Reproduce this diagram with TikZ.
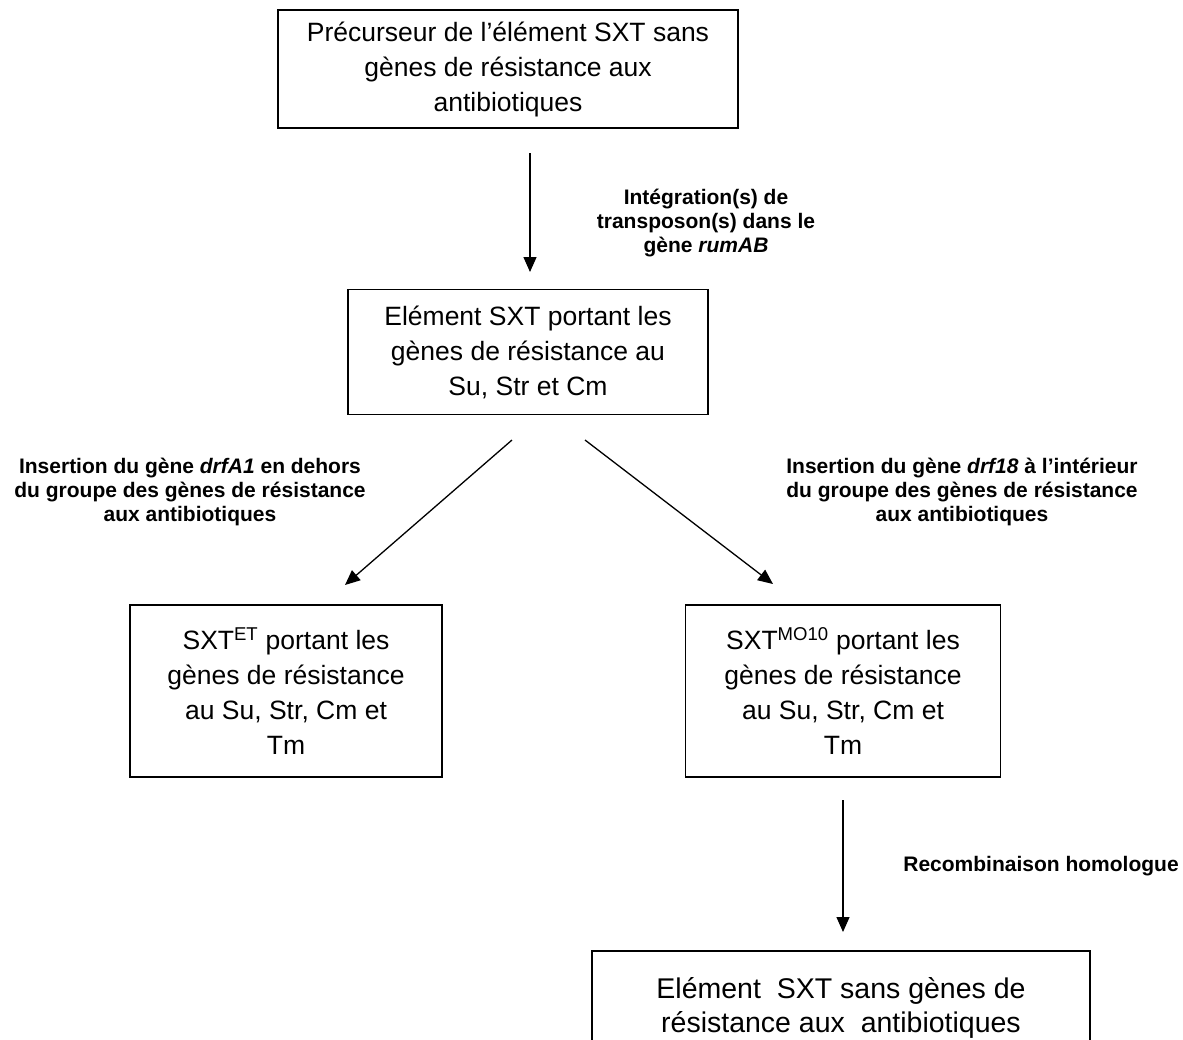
\documentclass[tikz,border=0pt]{standalone}
\usepackage{fontspec}
\setmainfont{Liberation Sans}
\usetikzlibrary{arrows.meta,positioning}
\tikzset{
    stage/.style={
           rectangle,
           draw=black, line width=1.6pt,
           align=center,
           inner sep=0pt,
           font=\fontsize{26.5}{35}\selectfont
           },
    step label/.style={
           align=center,
           inner sep=0pt,
           font=\fontsize{21}{24.4}\selectfont\bfseries
           },
    flow/.style={
           line width=1.3pt,
           -{Triangle[length=15pt,width=13pt]}
           }
}

\begin{document}
\begin{tikzpicture}[x=1pt,y=-1pt]
\useasboundingbox (0,0) rectangle (1183,1039);
\begin{scope}
\clip (0,0) rectangle (1183,1039);
   % boxes
   \node[stage, minimum width=460pt, minimum height=118pt] (precursor) at (508,69)
      {Précurseur de l’élément SXT sans\\ gènes de résistance aux\\ antibiotiques};
   \node[stage, minimum width=360pt, minimum height=125pt] (sxt) at (528,352)
      {Elément SXT portant les\\ gènes de résistance au\\ Su, Str et Cm};
   \node[stage, minimum width=312pt, minimum height=172pt] (et) at (286,691)
      {SXT\textsuperscript{ET} portant les\\ gènes de résistance\\ au Su, Str, Cm et\\ Tm};
   \node[stage, minimum width=315pt, minimum height=172pt] (mo) at (843,691)
      {SXT\textsuperscript{MO10} portant les\\ gènes de résistance\\ au Su, Str, Cm et\\ Tm};
   \node[stage, font=\fontsize{28.5}{34}\selectfont, minimum width=498pt,
         minimum height=130pt, anchor=north] (free) at (841,950)
      {\rule{0pt}{44pt}Elément\ \ SXT sans gènes de\\ résistance aux\ \ antibiotiques\\ \strut};
   % connectors
   \coordinate (a1) at (530,153);
   \coordinate (a2) at (530,272);
   \coordinate (l1) at (512,440);
   \coordinate (l2) at (345,585);
   \coordinate (r1) at (585,440);
   \coordinate (r2) at (773,584);
   \coordinate (b1) at (843,800);
   \coordinate (b2) at (843,932);
   \draw[flow] (a1) -- (a2);
   \draw[flow] (l1) -- (l2);
   \draw[flow] (r1) -- (r2);
   \draw[flow] (b1) -- (b2);
   % labels
   \node[step label] (lbl-int) at (706,223)
      {Intégration(s) de\\ transposon(s) dans le\\ gène \textit{rumAB}};
   \node[step label] (lbl-drfa) at (190,492)
      {Insertion du gène \textit{drfA1} en dehors\\ du groupe des gènes de résistance\\ aux antibiotiques};
   \node[step label] (lbl-drf) at (962,492)
      {Insertion du gène \textit{drf18} à l’intérieur\\ du groupe des gènes de résistance\\ aux antibiotiques};
   \node[step label] (lbl-rec) at (1041,866)
      {Recombinaison homologue};
\end{scope}
\end{tikzpicture}
\end{document}
